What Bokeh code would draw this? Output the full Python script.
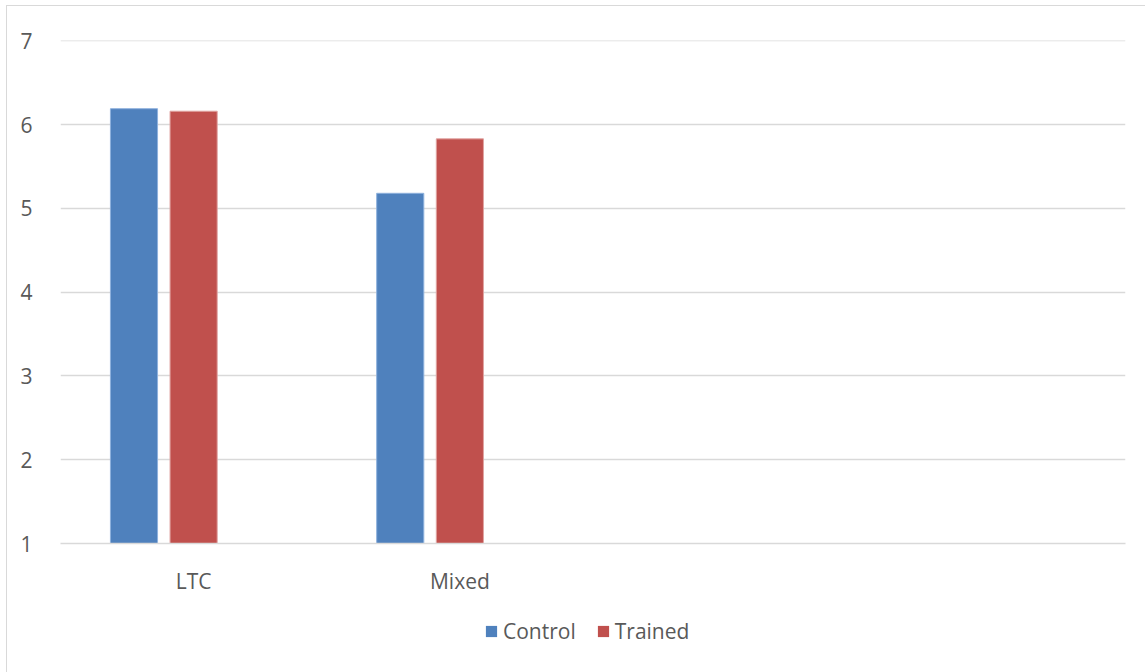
from bokeh.plotting import figure
from bokeh.layouts import column
from bokeh.models import FactorRange, Range1d, ColumnDataSource, Legend, LegendItem, FixedTicker
from bokeh.transform import dodge
from bokeh.embed import file_html
from bokeh.resources import INLINE

categories = ["LTC", "Mixed", " ", "  "]
control = [6.19, 5.18, None, None]
trained = [6.16, 5.83, None, None]
y_ticks = [1, 2, 3, 4, 5, 6, 7]

src = ColumnDataSource(dict(cat=categories, control=[v if v is not None else float("nan") for v in control],
                            trained=[v if v is not None else float("nan") for v in trained]))

FONT = "Open Sans"
TXT = "#595959"
GRID = "#d9d9d9"
BLUE = "#4F81BD"
RED = "#C0504D"

xr = FactorRange(*categories, range_padding=0)
p = figure(x_range=xr, y_range=Range1d(1, 7.004),
           frame_width=1064, frame_height=502, output_backend="svg", toolbar_location=None,
           min_border_left=53, min_border_right=21, min_border_top=34, min_border_bottom=68)
p.outline_line_color = None
p.background_fill_color = "white"
p.border_fill_color = "white"
p.margin = (5, 0, 0, 6)
p.styles = {"border-top": "1px solid #d9d9d9", "border-left": "1px solid #d9d9d9"}

bw = 0.177
p.vbar(x=dodge("cat", -0.224, range=xr), top="control", bottom=1, width=bw, source=src,
       fill_color=BLUE, line_color="#8EB1DD", line_width=1)
p.vbar(x=dodge("cat", 0.0, range=xr), top="trained", bottom=1, width=bw, source=src,
       fill_color=RED, line_color="#E0A3A1", line_width=1)

p.xgrid.grid_line_color = None
p.ygrid.grid_line_color = GRID
p.ygrid.grid_line_width = 1.5
p.yaxis.ticker = FixedTicker(ticks=y_ticks)
p.yaxis.axis_line_color = None
p.yaxis.major_tick_line_color = None
p.yaxis.minor_tick_line_color = None
p.yaxis.major_label_standoff = 22
p.xaxis.axis_line_color = GRID
p.xaxis.axis_line_width = 1.5
p.xaxis.major_tick_line_color = None
p.xaxis.minor_tick_line_color = None
p.xaxis.major_label_standoff = 17
for ax in (p.xaxis, p.yaxis):
    ax.major_label_text_font = FONT
    ax.major_label_text_font_size = "21px"
    ax.major_label_text_color = TXT

# legend strip below the chart (its swatch renderers sit outside the visible y range)
q = figure(x_range=xr, y_range=Range1d(100, 101), frame_width=1138, frame_height=62,
           output_backend="svg", toolbar_location=None,
           min_border_left=0, min_border_right=0, min_border_top=0, min_border_bottom=0)
q.axis.visible = False
q.grid.grid_line_color = None
q.outline_line_color = None
q.border_fill_color = "white"
q.margin = (0, 0, 0, 6)
q.styles = {"border-left": "1px solid #d9d9d9"}
s1 = q.vbar(x=dodge("cat", -0.224, range=xr), top="control", bottom=1, width=bw, source=src,
            fill_color=BLUE, line_color=None)
s2 = q.vbar(x=dodge("cat", 0.0, range=xr), top="trained", bottom=1, width=bw, source=src,
            fill_color=RED, line_color=None)
legend = Legend(items=[LegendItem(label="Control", renderers=[s1]),
                       LegendItem(label="Trained", renderers=[s2])],
                orientation="horizontal", location=(477, 27),
                glyph_width=14, glyph_height=14, label_standoff=5, spacing=20,
                padding=0, margin=0, border_line_color=None, background_fill_alpha=0,
                label_text_font=FONT, label_text_font_size="21px", label_text_color=TXT)
q.add_layout(legend, "center")

layout = column(p, q, spacing=0)
open("out.html", "w").write(file_html(layout, INLINE))
